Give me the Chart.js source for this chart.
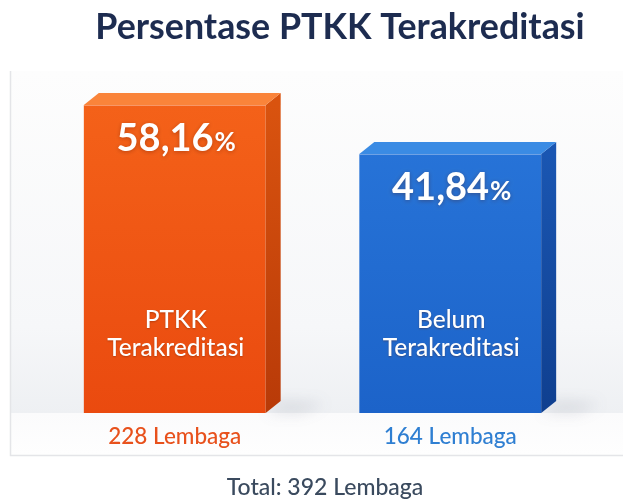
<!DOCTYPE html>
<html>
<head>
<meta charset="utf-8">
<script src="https://cdn.jsdelivr.net/npm/chart.js@4.4.1/dist/chart.umd.min.js"></script>
<style>
  html, body { margin: 0; padding: 0; background: #ffffff; }
  #wrap { width: 623px; height: 499px; position: relative; }
</style>
</head>
<body>
<div id="wrap"><canvas id="chart" width="623" height="499"></canvas></div>
<script>
// ── DATA ─────────────────────────────────────────
const categories = ["PTKK Terakreditasi", "Belum Terakreditasi"];
const labelLines = [["PTKK", "Terakreditasi"], ["Belum", "Terakreditasi"]];
const percents   = [58.16, 41.84];
const counts     = [228, 164];
const totalCount = 392;

// ── STYLE ────────────────────────────────────────
const FONT       = "Lato, 'Open Sans', sans-serif";
const frontTop   = ["#f5641a", "#2a78dc"];
const frontBot   = ["#ea4a0f", "#1c63c9"];
const sideTop    = ["#d9530f", "#1a56b2"];
const sideBot    = ["#b83a08", "#0f3f8f"];
const topFace    = ["#fa843a", "#3a8be4"];
const countColor = ["#e8511c", "#2f7fd2"];
const DEPTH_X = 15, DEPTH_Y = -12;

const fmt = v => v.toFixed(2).replace(".", ",");

// fit a string into a target width
function fitFont(ctx, text, weight, width) {
  ctx.font = weight + " 20px " + FONT;
  const size = 20 * width / ctx.measureText(text).width;
  return weight + " " + size.toFixed(1) + "px " + FONT;
}

// ── BACKGROUND CARD ──────────────────────────────
const cardPlugin = {
  id: "card",
  beforeDraw(chart) {
    const ctx = chart.ctx;
    const floor = chart.chartArea.bottom;
    ctx.save();
    ctx.fillStyle = "#ffffff";
    ctx.fillRect(0, 0, chart.width, chart.height);

    const g = ctx.createLinearGradient(0, 71, 0, floor);
    g.addColorStop(0, "#fdfdfd");
    g.addColorStop(0.75, "#f6f7f9");
    g.addColorStop(1, "#eef0f3");
    ctx.fillStyle = g;
    ctx.fillRect(10, 71, chart.width, floor - 71);

    const g2 = ctx.createLinearGradient(0, floor, 0, 455);
    g2.addColorStop(0, "#fbfbfc");
    g2.addColorStop(1, "#fefefe");
    ctx.fillStyle = g2;
    ctx.fillRect(10, floor, chart.width, 455 - floor);

    ctx.strokeStyle = "#e4e5e8";
    ctx.lineWidth = 1.5;
    ctx.beginPath();
    ctx.moveTo(10.5, 71);
    ctx.lineTo(10.5, 455.5);
    ctx.lineTo(chart.width, 455.5);
    ctx.stroke();

    // title
    const title = "Persentase PTKK Terakreditasi";
    ctx.fillStyle = "#1d2c50";
    ctx.font = fitFont(ctx, title, "bold", 490);
    ctx.textAlign = "center";
    ctx.textBaseline = "middle";
    ctx.fillText(title, 340, 27);
    ctx.restore();
  },
  beforeDatasetsDraw(chart) {
    // floor shadows
    const ctx = chart.ctx;
    const meta = chart.getDatasetMeta(0);
    meta.data.forEach(bar => {
      const x1 = bar.x + bar.width / 2;
      const b = bar.base;
      ctx.save();
      ctx.filter = "blur(7px)";
      ctx.fillStyle = "rgba(70,80,100,0.13)";
      ctx.beginPath();
      ctx.moveTo(x1, b);
      ctx.lineTo(x1 + DEPTH_X, b + DEPTH_Y);
      ctx.lineTo(x1 + DEPTH_X + 45, b + DEPTH_Y + 2);
      ctx.lineTo(x1 + 35, b + 1);
      ctx.closePath();
      ctx.fill();
      ctx.restore();
    });
  },
};

// ── 3D FACES + TEXT ──────────────────────────────
const boxPlugin = {
  id: "box3d",
  afterDatasetsDraw(chart) {
    const ctx = chart.ctx;
    const meta = chart.getDatasetMeta(0);
    meta.data.forEach((bar, i) => {
      const x0 = bar.x - bar.width / 2;
      const x1 = bar.x + bar.width / 2;
      const top = bar.y, bot = bar.base;
      ctx.save();

      // side face
      const gs = ctx.createLinearGradient(0, top, 0, bot);
      gs.addColorStop(0, sideTop[i]);
      gs.addColorStop(1, sideBot[i]);
      ctx.fillStyle = gs;
      ctx.beginPath();
      ctx.moveTo(x1, top);
      ctx.lineTo(x1 + DEPTH_X, top + DEPTH_Y);
      ctx.lineTo(x1 + DEPTH_X, bot + DEPTH_Y);
      ctx.lineTo(x1, bot);
      ctx.closePath();
      ctx.fill();

      // top face
      ctx.fillStyle = topFace[i];
      ctx.beginPath();
      ctx.moveTo(x0, top);
      ctx.lineTo(x1, top);
      ctx.lineTo(x1 + DEPTH_X, top + DEPTH_Y);
      ctx.lineTo(x0 + DEPTH_X, top + DEPTH_Y);
      ctx.closePath();
      ctx.fill();
      ctx.strokeStyle = "rgba(255,255,255,0.35)";
      ctx.lineWidth = 1;
      ctx.beginPath();
      ctx.moveTo(x0, top + 0.5);
      ctx.lineTo(x1, top + 0.5);
      ctx.stroke();

      // percentage
      const big = "bold 38px " + FONT;
      const small = "bold 26px " + FONT;
      const num = fmt(percents[i]);
      ctx.font = big;
      const wNum = ctx.measureText(num).width;
      ctx.font = small;
      const wPct = ctx.measureText("%").width;
      const startX = bar.x - (wNum + wPct) / 2 + 1;
      const baseY = top + 46;
      ctx.shadowColor = "rgba(80,20,0,0.35)";
      ctx.shadowBlur = 4;
      ctx.shadowOffsetY = 1;
      ctx.fillStyle = "#ffffff";
      ctx.textAlign = "left";
      ctx.textBaseline = "alphabetic";
      ctx.font = big;
      ctx.fillText(num, startX, baseY);
      ctx.font = small;
      ctx.fillText("%", startX + wNum + 1, baseY);

      // category label inside bar
      ctx.shadowBlur = 2;
      ctx.font = "500 24.5px " + FONT;
      ctx.textAlign = "center";
      labelLines[i].forEach((ln, k) => {
        ctx.fillText(ln, bar.x + 1, 328 + k * 28);
      });
      ctx.shadowColor = "transparent";

      // count under bar
      ctx.font = "500 22.5px " + FONT;
      ctx.fillStyle = countColor[i];
      ctx.textBaseline = "middle";
      ctx.fillText(counts[i] + " Lembaga", bar.x, 437);
      ctx.restore();
    });

    ctx.save();
    ctx.font = "500 23px " + FONT;
    ctx.fillStyle = "#3a4a5e";
    ctx.textAlign = "center";
    ctx.textBaseline = "middle";
    ctx.fillText("Total: " + totalCount + " Lembaga", 325, 488);
    ctx.restore();
  },
};

// ── CHART ────────────────────────────────────────
function frontGradient(c) {
  const { chart, dataIndex } = c;
  const area = chart.chartArea;
  if (!area) return frontTop[dataIndex];
  const g = chart.ctx.createLinearGradient(0, area.top, 0, area.bottom);
  g.addColorStop(0, frontTop[dataIndex]);
  g.addColorStop(1, frontBot[dataIndex]);
  return g;
}

new Chart(document.getElementById("chart"), {
  type: "bar",
  data: {
    labels: categories,
    datasets: [{
      data: percents,
      base: -44.5,
      backgroundColor: frontGradient,
      borderWidth: 0,
      categoryPercentage: 1,
      barPercentage: 0.66,
    }],
  },
  options: {
    responsive: false,
    animation: false,
    layout: { padding: { top: 69.5, bottom: 86, left: 37, right: 35 } },
    plugins: {
      legend: { display: false },
      tooltip: { enabled: false },
    },
    scales: {
      x: { display: false },
      y: { display: false, min: -44.5, max: 70 },
    },
  },
  plugins: [cardPlugin, boxPlugin],
});
</script>
</body>
</html>
